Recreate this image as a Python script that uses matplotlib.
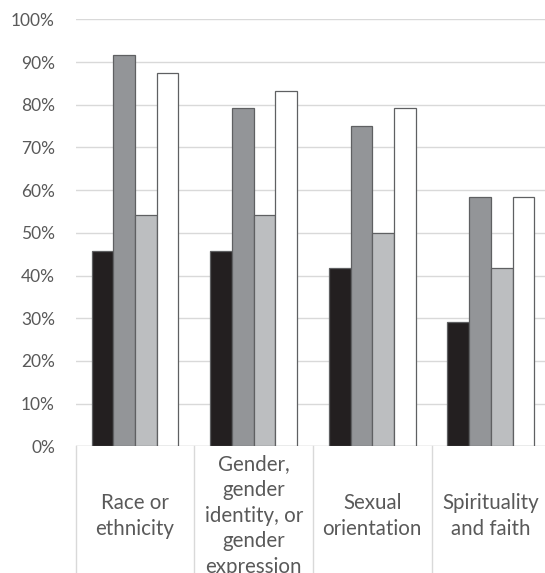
import numpy as np
import matplotlib
matplotlib.use("Agg")
import matplotlib.pyplot as plt
from matplotlib.ticker import FuncFormatter

# --- data (share of respondents, %) ---
categories = [
    "Race or\nethnicity",
    "Gender,\ngender\nidentity, or\ngender\nexpression",
    "Sexual\norientation",
    "Spirituality\nand faith",
]
series_a = [45.8, 45.8, 41.7, 29.2]
series_b = [91.7, 79.2, 75.0, 58.3]
series_c = [54.2, 54.2, 50.0, 41.7]
series_d = [87.5, 83.3, 79.2, 58.3]

series = [series_a, series_b, series_c, series_d]
fills = ["#231f20", "#939598", "#bcbec0", "#ffffff"]
edge = "#5f6062"
grid_col = "#d9d9d9"
text_col = "#595959"

plt.rcParams["font.family"] = ["Lato", "DejaVu Sans"]

fig = plt.figure(figsize=(5.45, 5.73), dpi=100)
ax = fig.add_axes([0.139, 0.2211, 0.8705, 0.7452])

x = np.arange(len(categories))
bw = 0.183
for k, (vals, col) in enumerate(zip(series, fills)):
    offs = (k - 1.5) * bw
    ax.bar(x + offs, vals, width=bw, color=col, edgecolor=edge,
           linewidth=0.9, zorder=3)

ax.set_xlim(-0.5, len(categories) - 0.5)
ax.set_ylim(0, 100)
ax.set_yticks(np.arange(0, 101, 10))
ax.yaxis.set_major_formatter(FuncFormatter(lambda v, _: f"{v:.0f}%"))
ax.tick_params(axis="y", length=0, pad=15, labelsize=12.5, labelcolor=text_col)
ax.set_xticks([])
ax.grid(axis="y", color=grid_col, linewidth=1.0, zorder=0)
for s in ax.spines.values():
    s.set_visible(False)
ax.axhline(0, color=grid_col, linewidth=1.0, zorder=2)

# category separators below the axis
trans = ax.get_xaxis_transform()
for b in np.arange(len(categories)) - 0.5:
    ax.plot([b, b], [0, -0.35], color=grid_col, linewidth=1.0,
            transform=trans, clip_on=False)

# wrapped category labels, one line at a time so the line pitch is exact
mid_pt = 54.3    # baseline of the middle line below the axis, points
pitch_pt = 18.5  # line pitch, points
for i, lab in enumerate(categories):
    lines = lab.split("\n")
    n = len(lines)
    for j, line in enumerate(lines):
        dy = -(mid_pt + (j - (n - 1) / 2) * pitch_pt)
        ax.annotate(line, xy=(i, 0), xycoords=trans, xytext=(0, dy),
                    textcoords="offset points", ha="center", va="baseline",
                    fontsize=14.8, color=text_col, annotation_clip=False)

fig.savefig("out.png", dpi=100, facecolor="white")
